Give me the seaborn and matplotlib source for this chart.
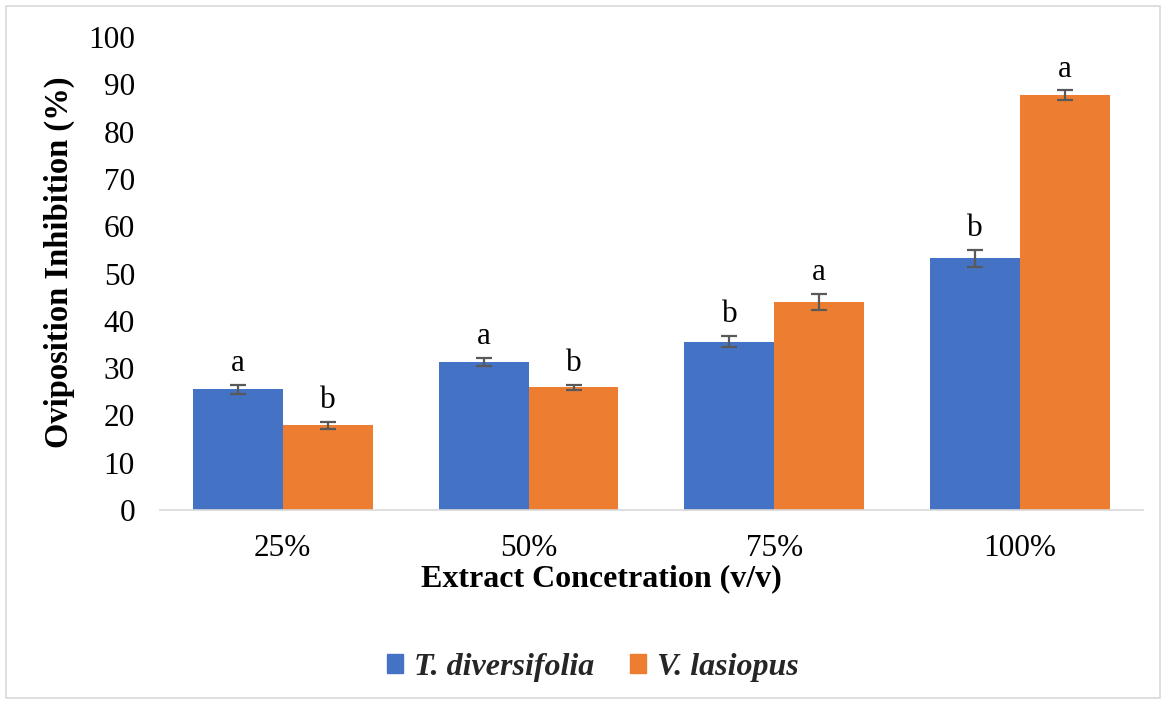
import numpy as np
import pandas as pd
import matplotlib
matplotlib.use("Agg")
import matplotlib.pyplot as plt
import seaborn as sns
from matplotlib.patches import Rectangle

categories = ["25%", "50%", "75%", "100%"]
series_names = ["T. diversifolia", "V. lasiopus"]
t_div = [25.5, 31.3, 35.6, 53.2]
v_las = [17.9, 25.9, 43.9, 87.7]
t_div_err = [1.0, 0.85, 1.15, 1.75]
v_las_err = [0.7, 0.45, 1.7, 1.0]
t_div_letters = ["a", "a", "b", "b"]
v_las_letters = ["b", "b", "a", "a"]
colors = ["#4472C4", "#ED7D31"]

sns.set_theme(style="white")
plt.rcParams['font.family'] = ['Liberation Serif', 'DejaVu Serif']

df = pd.DataFrame({
    "Concentration": categories * 2,
    "Inhibition": t_div + v_las,
    "Species": [series_names[0]] * 4 + [series_names[1]] * 4,
})

fig = plt.figure(figsize=(11.67, 7.04), dpi=100)
ax = fig.add_axes([0.137, 0.2756, 0.8424, 0.6718])
sns.barplot(data=df, x="Concentration", y="Inhibition", hue="Species",
            order=categories, hue_order=series_names, palette=colors,
            width=0.732, errorbar=None, saturation=1, ax=ax,
            edgecolor="none", linewidth=0)

errs = [t_div_err, v_las_err]
letters = [t_div_letters, v_las_letters]
vals = [t_div, v_las]
bar_containers = list(ax.containers)
for k, cont in enumerate(bar_containers):
    for i, bar in enumerate(cont.patches):
        xc = bar.get_x() + bar.get_width() / 2
        ax.errorbar(xc, vals[k][i], yerr=errs[k][i], fmt="none",
                    ecolor="#595959", elinewidth=1.6, capsize=5.5, capthick=1.6, zorder=5)
        ax.annotate(letters[k][i], (xc, vals[k][i] + errs[k][i]),
                    xytext=(0, 10), textcoords="offset points",
                    ha="center", va="baseline", fontsize=22.5, color="black")

ax.set_xlim(-0.5, 3.5)
ax.set_ylim(0, 100)
ax.set_yticks(range(0, 101, 10))
ax.tick_params(axis="both", length=0, labelsize=22.5, colors="black")
ax.tick_params(axis="x", pad=17)
ax.tick_params(axis="y", pad=18)
for s in ["top", "right", "left"]:
    ax.spines[s].set_visible(False)
ax.spines["bottom"].set_color("#d9d9d9")
ax.spines["bottom"].set_linewidth(1.2)
ax.set_xlabel("Extract Concetration (v/v)", fontsize=23, fontweight="bold", color="black")
ax.xaxis.set_label_coords(0.449, -0.115)
ax.set_ylabel("Oviposition Inhibition (%)", fontsize=23.5, fontweight="bold", color="black")
ax.yaxis.set_label_coords(-0.086, 0.524)

if ax.get_legend() is not None:
    ax.get_legend().remove()
handles = [Rectangle((0, 0), 1, 1, color=c) for c in colors]
leg = fig.legend(handles, series_names, loc="center", bbox_to_anchor=(0.508, 0.052),
                 ncol=2, frameon=False, handlelength=0.5, handleheight=0.5,
                 handletextpad=0.35, columnspacing=1.1,
                 prop={"family": "Liberation Serif", "size": 23, "weight": "bold", "style": "italic"})

fig.patches.append(Rectangle((0.005, 0.008), 0.989, 0.984, transform=fig.transFigure,
                             fill=False, edgecolor="#d9d9d9", linewidth=1.2))

fig.savefig("out.png", dpi=100)
